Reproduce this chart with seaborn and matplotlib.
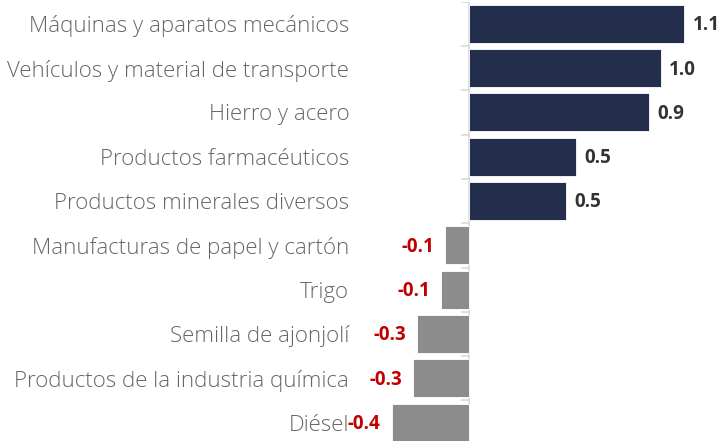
import matplotlib
matplotlib.use("Agg")
import matplotlib.pyplot as plt
import seaborn as sns
import pandas as pd

categories = [
    "Máquinas y aparatos mecánicos",
    "Vehículos y material de transporte",
    "Hierro y acero",
    "Productos farmacéuticos",
    "Productos minerales diversos",
    "Manufacturas de papel y cartón",
    "Trigo",
    "Semilla de ajonjolí",
    "Productos de la industria química",
    "Diésel",
]
values = [1.09, 0.97, 0.91, 0.54, 0.49, -0.12, -0.14, -0.26, -0.28, -0.39]

df = pd.DataFrame({"categoria": categories, "valor": values})
df["signo"] = ["pos" if v >= 0 else "neg" for v in values]

sns.set_theme(style="white")
plt.rcParams["font.family"] = ["Open Sans", "DejaVu Sans"]

NAVY = "#1c2953"
GRAY = "#8c8c8c"
RED = "#c00000"

fig = plt.figure(figsize=(7.2, 4.41), dpi=100)
ax = fig.add_axes([352 / 720, 1 - 444.7 / 441, (720 - 352) / 720, 443 / 441])

sns.barplot(
    data=df, y="categoria", x="valor", hue="signo",
    palette={"pos": NAVY, "neg": GRAY}, dodge=False, width=0.86,
    orient="h", legend=False, ax=ax, edgecolor="white", linewidth=0.6,
)

ax.set_xlim(-0.59, 1.27)
ax.set_ylim(len(categories) - 0.5, -0.5)
ax.set_xlabel("")
ax.set_ylabel("")
ax.set_xticks([])
for s in ax.spines.values():
    s.set_visible(False)

# Category axis line at zero with short boundary ticks
ax.axvline(0, color="#d9d9d9", lw=1.2, zorder=0)
bounds = [i - 0.5 for i in range(len(categories) + 1)]
ax.hlines(bounds, -0.04, 0, color="#d9d9d9", lw=1.2, zorder=0)

ax.tick_params(axis="y", length=0, pad=2)
for lab in ax.get_yticklabels():
    lab.set_fontsize(16)
    lab.set_color("#666666")
    lab.set_fontweight("light")

for i, v in enumerate(values):
    txt = f"{v:.1f}"
    if v >= 0:
        ax.annotate(txt, (v, i), xytext=(6, -1), textcoords="offset points",
                    ha="left", va="center", fontsize=13.5, fontweight="bold",
                    color="#333333", annotation_clip=False)
    else:
        ax.annotate(txt, (v, i), xytext=(-8, -1), textcoords="offset points",
                    ha="right", va="center", fontsize=13.5, fontweight="bold",
                    color=RED, annotation_clip=False)

fig.savefig("out.png", dpi=100)
